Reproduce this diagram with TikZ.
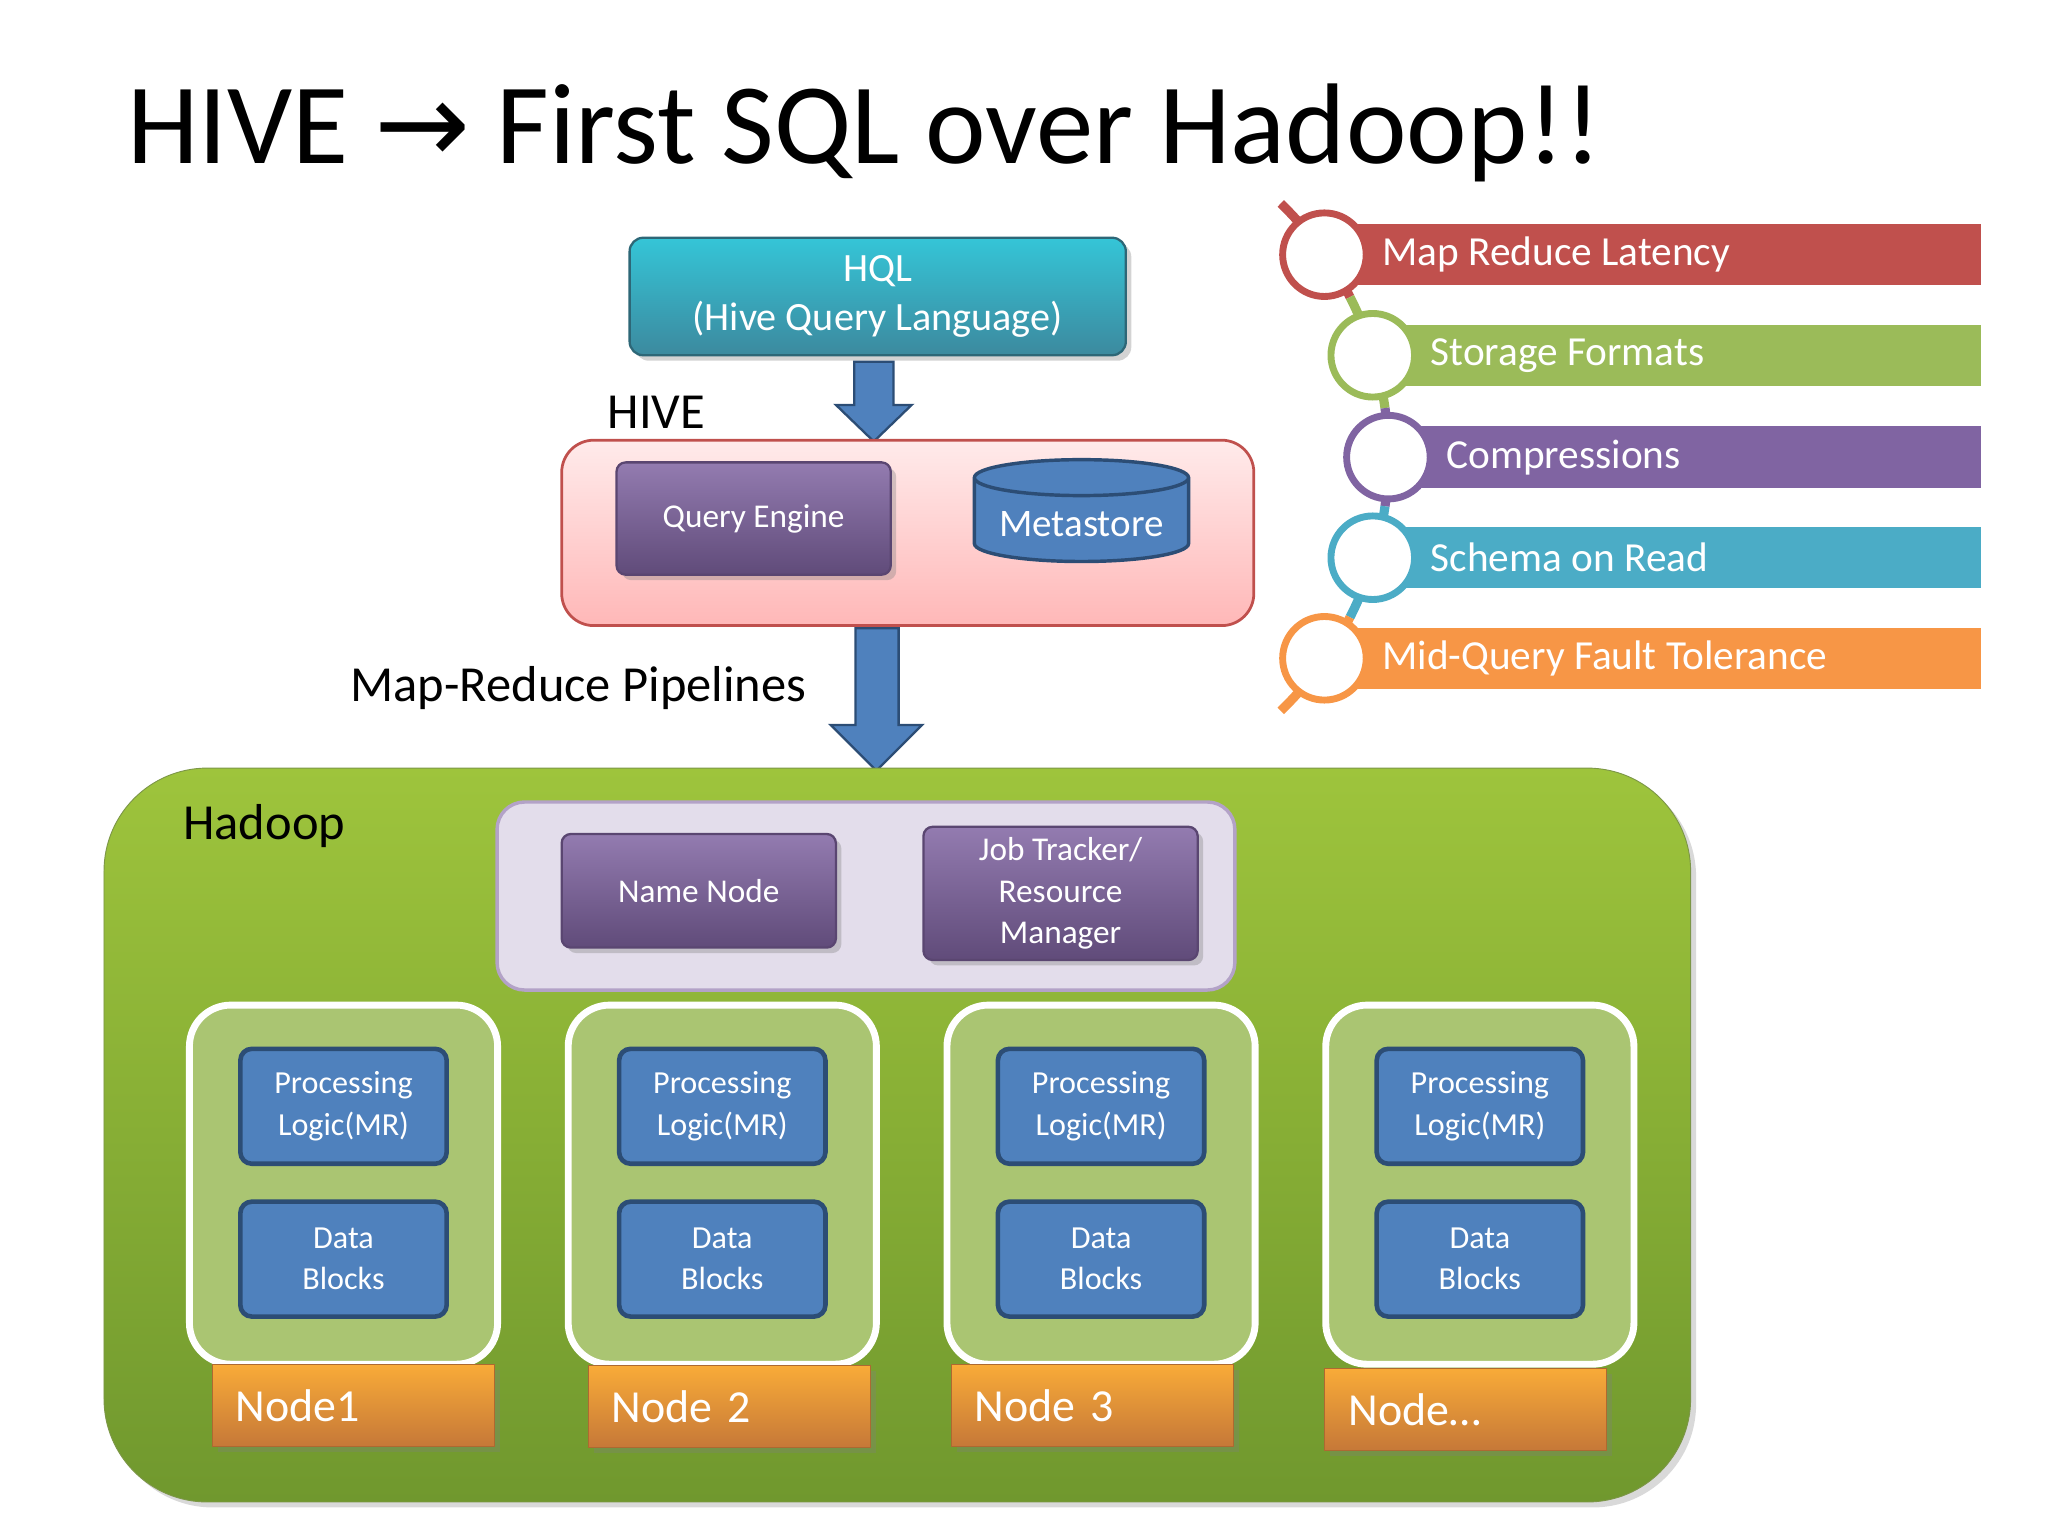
\documentclass[tikz,border=0pt]{standalone}
\usepackage{fontspec}
\setmainfont{Carlito}
\newfontfamily\dv{DejaVu Sans}
\usetikzlibrary{shapes.geometric,shadows}
\definecolor{cred}{HTML}{C0504D}\definecolor{cgreen}{HTML}{9BBB59}
\definecolor{cpurp}{HTML}{8064A2}\definecolor{cteal}{HTML}{4BACC6}
\definecolor{corange}{HTML}{F79646}\definecolor{cblue}{HTML}{4F81BD}
\definecolor{dblue}{HTML}{2C4D75}
\begin{document}
\begin{tikzpicture}[x=0.02cm,y=-0.02cm,
 pbox/.style={rounded corners=4pt,draw=cpurp!70!black,line width=1pt,top color=cpurp!85,bottom color=cpurp!75!black,text=white,align=center,font=\fontsize{14.5}{18}\selectfont,drop shadow={opacity=0.35}},
 bbox/.style={rounded corners=5pt,draw=dblue,line width=2pt,fill=cblue,text=white,align=center,font=\fontsize{14}{18}\selectfont,minimum width=3.16cm,minimum height=1.76cm},
 nbox/.style={draw=white,line width=3pt,rounded corners=18pt,fill=cgreen!85!white,minimum width=4.72cm,minimum height=5.5cm},
 lbl/.style={top color=corange!80!yellow,bottom color=corange!80!black,draw=corange!70!black,text=white,anchor=west,font=\fontsize{20}{24}\selectfont,minimum width=4.32cm,minimum height=1.26cm,text width=3.6cm,drop shadow={opacity=0.3}},
 circ/.style={circle,fill=white,line width=3pt,minimum size=1.28cm},
 arr/.style={fill=cblue,draw=dblue,line width=1pt},
 big/.style={anchor=base west,font=\fontsize{22}{26}\selectfont,inner sep=0}]
\useasboundingbox (0,0) rectangle (1568,1176);
\node[anchor=base west,font=\fontsize{50}{60}\selectfont,inner sep=0] (title) at (97,125) {HIVE {\dv →} First SQL over Hadoop!!};
% HQL
\node[rounded corners=6pt,top color=cteal!70!cyan,bottom color=cteal!80!black,draw=cteal!60!black,line width=1pt,minimum width=7.6cm,minimum height=1.8cm,text=white,align=center,font=\fontsize{17.5}{21}\selectfont,drop shadow={opacity=0.35}] (hql) at (672,227) {HQL\\(Hive Query Language)};
\draw[arr] (654,277) -- (684,277) -- (684,310) -- (698,310) -- (669,338) -- (640,310) -- (654,310) -- cycle;
\node[big] (hivel) at (465,328) {HIVE};
\node[rounded corners=14pt,draw=cred,line width=1.2pt,top color=red!8,bottom color=red!28,minimum width=10.6cm,minimum height=2.84cm] (hive) at (695,408) {};
\node[pbox,minimum width=4.2cm,minimum height=1.72cm] (qe) at (577,397) {Query Engine};
\node[cylinder,shape border rotate=90,aspect=0.2,draw=dblue,line width=1.5pt,fill=cblue,text=white,minimum width=3.28cm,minimum height=1.56cm,font=\fontsize{17}{20}\selectfont] (ms) at (828,401) {Metastore};
\draw[arr] (655,481) -- (688,481) -- (688,555) -- (706,555) -- (671,590) -- (636,555) -- (655,555) -- cycle;
\node[big] (mrp) at (268,537) {Map-Reduce Pipelines};
% Hadoop
\node[rounded corners=45pt,top color={rgb,255:red,158;green,196;blue,60},bottom color={rgb,255:red,112;green,152;blue,46},draw=cgreen!80!black,minimum width=24.3cm,minimum height=11.24cm,drop shadow={opacity=0.3}] (hadoop) at (687,869) {};
\node[big] (hl) at (140,643) {Hadoop};
\node[rounded corners=12pt,draw=cpurp!60,line width=1.5pt,fill=cpurp!22!white,minimum width=11.3cm,minimum height=2.88cm] (mgr) at (663,686) {};
\node[pbox,minimum width=4.2cm,minimum height=1.74cm] (nn) at (535,682) {Name Node};
\node[pbox,minimum width=4.2cm,minimum height=2.04cm] (jt) at (812,684) {Job Tracker/\\Resource\\Manager};
\foreach \i/\x/\lx/\ly/\t in {1/263/162/1076/{Node1},2/553/450/1077/{Node 2},3/843/728/1076/{Node 3},4/1133/1014/1079/{Node\ldots}}{
 \node[nbox] (n\i) at (\x,907) {};
 \node[bbox] (p\i) at (\x,847) {Processing\\Logic(MR)};
 \node[bbox] (d\i) at (\x,964) {Data\\Blocks};
 \node[lbl,inner xsep=0.36cm] (l\i) at (\lx,\ly) {\t};
}
% right list
\foreach \y/\x/\c/\n in {195/1014/cred/1,272/1051/cgreen/2,350/1063/cpurp/3,427/1051/cteal/4,504/1014/corange/5}{
 \fill[\c] (\x,\y-23.5) rectangle (1517,\y+23.5);
}
\draw[cred,line width=4pt] (793,350) ++(-46:270) arc (-46:-27:270);
\draw[cgreen,line width=4pt] (793,350) ++(-27:270) arc (-27:-8:270);
\draw[cpurp,line width=4pt] (793,350) ++(-8:270) arc (-8:8:270);
\draw[cteal,line width=4pt] (793,350) ++(8:270) arc (8:27:270);
\draw[corange,line width=4pt] (793,350) ++(27:270) arc (27:46:270);
\foreach \y/\x/\c/\t/\n in {195/1014/cred/Map Reduce Latency/1,272/1051/cgreen/Storage Formats/2,350/1063/cpurp/Compressions/3,427/1051/cteal/Schema on Read/4,504/1014/corange/Mid-Query Fault Tolerance/5}{
 \node[circ,draw=\c] (c\n) at (\x,\y) {};
 \node[anchor=west,inner sep=0,text=white,font=\fontsize{18}{21}\selectfont] (t\n) at ([xshift=0.88cm]c\n.center) {\t};
}
\end{tikzpicture}
\end{document}
